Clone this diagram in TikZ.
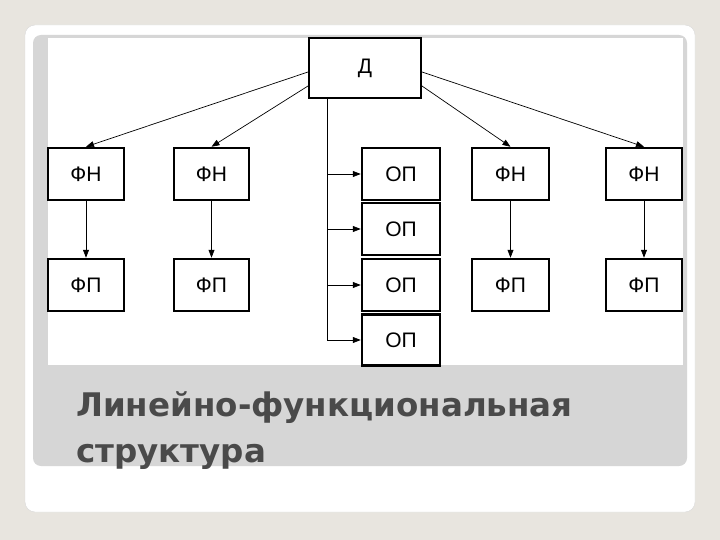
\documentclass[tikz,border=0pt]{standalone}
\usepackage{fontspec}
\newfontfamily\titlefont{DejaVu Sans}
\newfontfamily\boxfont{Liberation Sans}
\usetikzlibrary{arrows.meta}
\definecolor{bg}{HTML}{E8E5DF}
\definecolor{band}{HTML}{D6D6D6}
\definecolor{ttl}{HTML}{4A4A4A}
\begin{document}
\begin{tikzpicture}[x=1pt,y=-1pt,
  bx/.style={draw=black,line width=2.5pt,fill=white,font=\boxfont\fontsize{21}{21}\selectfont},
  ar/.style={-{Triangle[length=8pt,width=6pt]},line width=0.7pt}]
\fill[bg] (0,0) rectangle (720,540);
\useasboundingbox (0,0) rectangle (720,540);
\fill[white,rounded corners=10pt,draw=white!85!black] (25,25) rectangle (695,512);
\fill[band,rounded corners=8pt] (33,35) rectangle (687,466);
\fill[white] (48,38) rectangle (683,365);
\newcommand{\bxnode}[6]{\node[bx,minimum width=#4pt,minimum height=#5pt,inner sep=0pt] (#1) at (#2,#3) {#6};}
\bxnode{d}{365}{68}{112}{60}{Д}
\bxnode{fn1}{86}{174}{76}{52}{ФН}
\bxnode{fn2}{211.5}{174}{75}{52}{ФН}
\bxnode{fn3}{510.5}{174}{77}{52}{ФН}
\bxnode{fn4}{644}{174}{76}{52}{ФН}
\bxnode{fp1}{86}{285}{76}{52}{ФП}
\bxnode{fp2}{211.5}{285}{75}{52}{ФП}
\bxnode{fp3}{510.5}{285}{77}{52}{ФП}
\bxnode{fp4}{644}{285}{76}{52}{ФП}
\bxnode{op1}{401}{174}{78}{52}{ОП}
\bxnode{op2}{401}{229}{78}{52}{ОП}
\bxnode{op3}{401}{285}{78}{52}{ОП}
\bxnode{op4}{401}{340}{78}{51}{ОП}
\coordinate (dl1) at (308,72);
\coordinate (dl2) at (308,86);
\coordinate (dr1) at (422,86);
\coordinate (dr2) at (422,72);
\draw[ar] (dl1) -- (fn1.north);
\draw[ar] (dl2) -- (fn2.north);
\draw[ar] (dr1) -- (fn3.north);
\draw[ar] (dr2) -- (fn4.north);
\foreach \i in {1,2,3,4}{\draw[ar] (fn\i) -- (fp\i);}
\coordinate (vt) at (327,99);
\coordinate (vb) at (327,340);
\draw[line width=0.7pt] (vt) -- (vb);
\foreach \i in {1,2,3,4}{\draw[ar] (vb |- op\i) -- (op\i.west);}
\node[anchor=north west,align=left,text=ttl,font=\titlefont\bfseries\fontsize{32.5}{46}\selectfont,inner sep=0pt] (t) at (76,391) {Линейно-функциональная\\структура};
\end{tikzpicture}
\end{document}
